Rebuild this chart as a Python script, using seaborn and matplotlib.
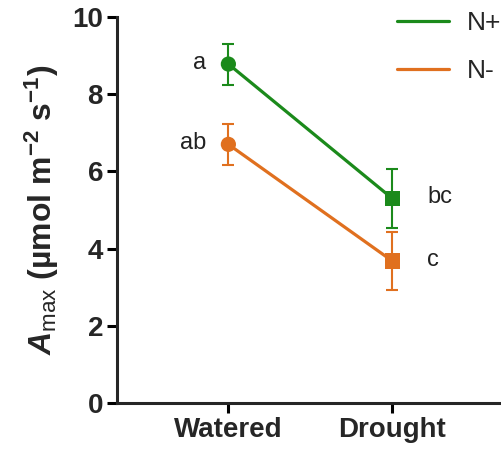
import matplotlib
matplotlib.use("Agg")
import matplotlib.pyplot as plt
import seaborn as sns
import pandas as pd

# Data
conditions = ["Watered", "Drought"]
treatments = ["N+", "N-"]
amax_nplus = [8.78, 5.30]
amax_nminus = [6.70, 3.68]
err_nplus = [0.53, 0.76]
err_nminus = [0.53, 0.75]
letters_nplus = ["a", "bc"]
letters_nminus = ["ab", "c"]

sns.set_theme(style="ticks")
plt.rcParams.update({
    "font.family": ["Liberation Sans", "DejaVu Sans"],
    "mathtext.fontset": "custom",
    "mathtext.it": "Liberation Sans:italic:bold",
    "mathtext.rm": "Liberation Sans:bold",
    "mathtext.sf": "Liberation Sans",
    "axes.linewidth": 2.2,
})

palette = {"N+": "#1b8a1b", "N-": "#e0701f"}

df = pd.DataFrame({
    "Condition": conditions * 2,
    "Treatment": ["N+"] * 2 + ["N-"] * 2,
    "Amax": amax_nplus + amax_nminus,
    "err": err_nplus + err_nminus,
    "letter": letters_nplus + letters_nminus,
})
df["x"] = df["Condition"].map({c: i for i, c in enumerate(conditions)})

fig = plt.figure(figsize=(5.02, 4.58), dpi=100)
ax = fig.add_axes([0.233, 0.12, 0.767, 0.843])

sns.lineplot(data=df, x="x", y="Amax", hue="Treatment", palette=palette,
             linewidth=2.3, ax=ax, legend=True, sort=False)
sns.scatterplot(data=df, x="x", y="Amax", hue="Treatment", style="Condition",
                markers={"Watered": "o", "Drought": "s"}, palette=palette,
                s=120, edgecolor="none", ax=ax, legend=False, zorder=4)

for _, r in df.iterrows():
    ax.errorbar(r["x"], r["Amax"], yerr=r["err"], color=palette[r["Treatment"]],
                capsize=4.5, capthick=1.5, elinewidth=1.5, fmt="none", zorder=3)
    if r["Condition"] == "Watered":
        ax.annotate(r["letter"], (r["x"], r["Amax"]), xytext=(-16, 1),
                    textcoords="offset points", ha="right", va="center",
                    fontsize=17, color="#222222")
    else:
        ax.annotate(r["letter"], (r["x"], r["Amax"]), xytext=(25, 1),
                    textcoords="offset points", ha="left", va="center",
                    fontsize=17, color="#222222")

ax.set_xlim(-0.68, 1.67)
ax.set_ylim(0, 10)
ax.set_xticks(range(len(conditions)))
ax.set_xticklabels(conditions, fontweight="bold", fontsize=20)
ax.set_yticks([0, 2, 4, 6, 8, 10])
ax.set_yticklabels(["0", "2", "4", "6", "8", "10"], fontweight="bold", fontsize=20)
ax.tick_params(axis="both", length=7, width=2.2, color="black", pad=3)
ax.set_xlabel("")
ax.set_ylabel(r"$\mathit{A}_{\mathsf{max}}$ (µmol m$^{\mathregular{-2}}$ s$^{\mathregular{-1}}$)",
              fontweight="bold", fontsize=23, labelpad=8)
sns.despine(ax=ax)

ax.legend(title=None, loc="upper right", bbox_to_anchor=(1.06, 1.076), frameon=False,
          fontsize=19, handlelength=1.95, labelspacing=0.9, handletextpad=0.7)

fig.savefig("out.png", dpi=100)
